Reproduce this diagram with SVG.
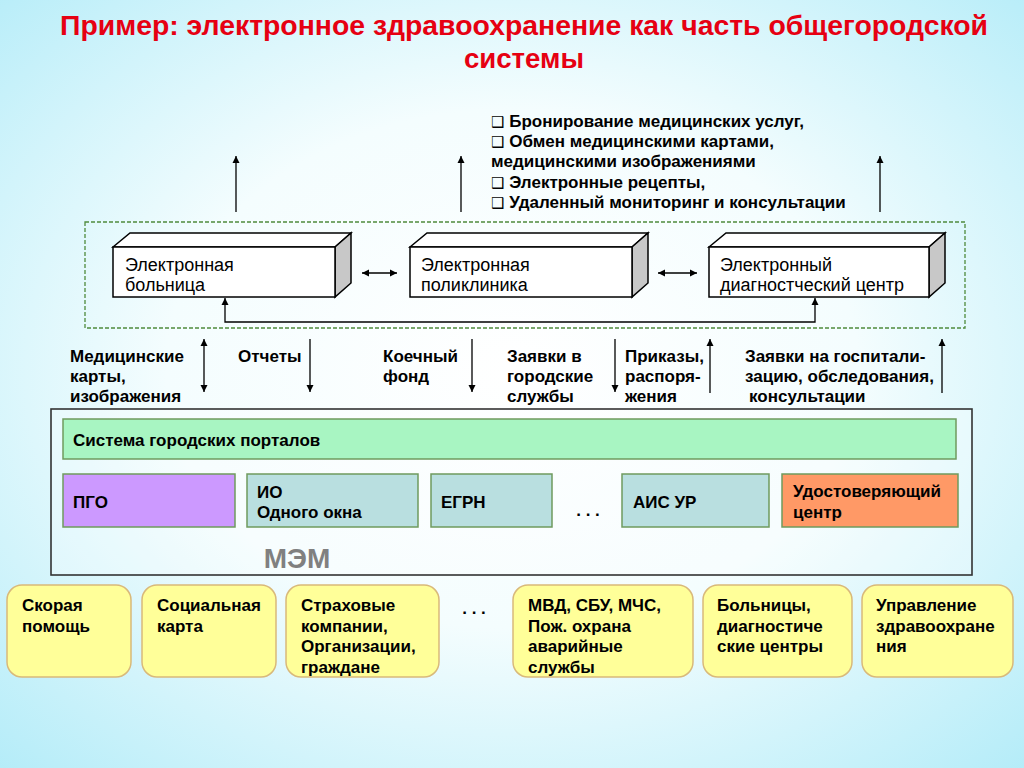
<svg xmlns="http://www.w3.org/2000/svg" width="1024" height="768" viewBox="0 0 1024 768">
<defs>
<radialGradient id="bg" cx="50%" cy="48%" r="75%">
<stop offset="0" stop-color="#ffffff"/>
<stop offset="0.45" stop-color="#f4fdfe"/>
<stop offset="1" stop-color="#b0ebf8"/>
</radialGradient>
<marker id="ah" viewBox="0 0 10 10" refX="10" refY="5" markerUnits="userSpaceOnUse" markerWidth="7" markerHeight="8" orient="auto-start-reverse">
<path d="M0,0 L10,5 L0,10 z" fill="#000"/>
</marker>
<style>
.t{font-family:"Liberation Sans",Arial,sans-serif;font-size:17px;fill:#000}
.r{font-size:18px}
.b{font-weight:bold}
.ln{stroke:#000;stroke-width:1.3;fill:none}
.box3d{fill:#fff;stroke:#000;stroke-width:1.5}
.side{fill:#c8c8c8;stroke:#000;stroke-width:1.5}
.row{stroke:#6f9a5e;stroke-width:1.5}
.yel{fill:#ffff99;stroke:#d9b97a;stroke-width:1.5}
.bul{font-family:"DejaVu Sans",sans-serif;font-size:15px;font-weight:normal}
</style>
</defs>
<rect width="1024" height="768" fill="url(#bg)"/>

<g id="title">
<text x="524" y="35" text-anchor="middle" textLength="928" lengthAdjust="spacingAndGlyphs" font-family="'Liberation Sans Narrow','Liberation Sans',Arial,sans-serif" font-weight="bold" font-size="28" fill="#e60012">Пример: электронное здравоохранение как часть общегородской</text>
<text x="524" y="68" text-anchor="middle" textLength="120" lengthAdjust="spacingAndGlyphs" font-family="'Liberation Sans Narrow','Liberation Sans',Arial,sans-serif" font-weight="bold" font-size="28" fill="#e60012">системы</text>
</g>

<g id="services">
<text class="t b" x="491" y="127"><tspan class="bul">❑</tspan> Бронирование медицинских услуг,</text>
<text class="t b" x="491" y="147"><tspan class="bul">❑</tspan> Обмен медицинскими картами,</text>
<text class="t b" x="491" y="167">медицинскими изображениями</text>
<text class="t b" x="491" y="188"><tspan class="bul">❑</tspan> Электронные рецепты,</text>
<text class="t b" x="491" y="208"><tspan class="bul">❑</tspan> Удаленный мониторинг и консультации</text>
</g>

<g id="ehealth-frame">
<rect x="85" y="222" width="880" height="106" fill="none" stroke="#4f8a3c" stroke-width="1.3" stroke-dasharray="4,2"/>
</g>

<g id="node-hospital">
<polygon class="box3d" points="113,247 130,233 351,233 335,247"/>
<polygon class="side" points="335,247 351,233 351,283 335,297"/>
<rect class="box3d" x="113" y="247" width="222" height="50"/>
<text class="t r" x="125" y="271">Электронная</text>
<text class="t r" x="125" y="291">больница</text>
</g>

<g id="node-polyclinic">
<polygon class="box3d" points="410,247 427,233 648,233 632,247"/>
<polygon class="side" points="632,247 648,233 648,283 632,297"/>
<rect class="box3d" x="410" y="247" width="222" height="50"/>
<text class="t r" x="421" y="271">Электронная</text>
<text class="t r" x="421" y="291">поликлиника</text>
</g>

<g id="node-diag">
<polygon class="box3d" points="709,247 726,233 945,233 929,247"/>
<polygon class="side" points="929,247 945,233 945,283 929,297"/>
<rect class="box3d" x="709" y="247" width="220" height="50"/>
<text class="t r" x="720" y="271">Электронный</text>
<text class="t r" x="720" y="291">диагностческий центр</text>
</g>

<g id="connectors">
<line class="ln" x1="236" y1="212" x2="236" y2="156" marker-end="url(#ah)"/>
<line class="ln" x1="461" y1="212" x2="461" y2="156" marker-end="url(#ah)"/>
<line class="ln" x1="880" y1="212" x2="880" y2="156" marker-end="url(#ah)"/>
<line class="ln" x1="362" y1="273" x2="397" y2="273" marker-start="url(#ah)" marker-end="url(#ah)"/>
<line class="ln" x1="658" y1="273" x2="697" y2="273" marker-start="url(#ah)" marker-end="url(#ah)"/>
<path class="ln" d="M225,298 V322 H815 V298" marker-start="url(#ah)" marker-end="url(#ah)"/>
<line class="ln" x1="204" y1="339" x2="204" y2="392" marker-start="url(#ah)" marker-end="url(#ah)"/>
<line class="ln" x1="310" y1="339" x2="310" y2="392" marker-end="url(#ah)"/>
<line class="ln" x1="472" y1="339" x2="472" y2="392" marker-end="url(#ah)"/>
<line class="ln" x1="615" y1="339" x2="615" y2="392" marker-end="url(#ah)"/>
<line class="ln" x1="710" y1="393" x2="710" y2="339" marker-end="url(#ah)"/>
<line class="ln" x1="942" y1="393" x2="942" y2="339" marker-end="url(#ah)"/>
</g>

<g id="flow-labels">
<text class="t b" x="70" y="362">Медицинские</text>
<text class="t b" x="70" y="382">карты,</text>
<text class="t b" x="70" y="402">изображения</text>
<text class="t b" x="238" y="362">Отчеты</text>
<text class="t b" x="383" y="362">Коечный</text>
<text class="t b" x="383" y="382">фонд</text>
<text class="t b" x="507" y="362">Заявки в</text>
<text class="t b" x="507" y="382">городские</text>
<text class="t b" x="507" y="402">службы</text>
<text class="t b" x="625" y="362">Приказы,</text>
<text class="t b" x="625" y="382">распоря-</text>
<text class="t b" x="625" y="402">жения</text>
<text class="t b" x="745" y="362">Заявки на госпитали-</text>
<text class="t b" x="745" y="382">зацию, обследования,</text>
<text class="t b" x="749" y="402">консультации</text>
</g>

<g id="mem">
<rect x="51" y="409" width="921" height="166" fill="#ffffff" fill-opacity="0.25" stroke="#333" stroke-width="1.6"/>
<text x="297" y="568" text-anchor="middle" font-family="'Liberation Sans',Arial,sans-serif" font-weight="bold" font-size="28" fill="#808080">МЭМ</text>
</g>

<g id="node-portals">
<rect class="row" x="63" y="419" width="893" height="40" fill="#a8f5c2"/>
<text class="t b" x="73" y="446">Система городских порталов</text>
</g>

<g id="node-pgo">
<rect class="row" x="63" y="474" width="172" height="53" fill="#cc99ff"/>
<text class="t b" x="73" y="508">ПГО</text>
</g>

<g id="node-io">
<rect class="row" x="247" y="474" width="171" height="53" fill="#b9dfe0"/>
<text class="t b" x="257" y="498">ИО</text>
<text class="t b" x="257" y="518">Одного окна</text>
</g>

<g id="node-egrn">
<rect class="row" x="431" y="474" width="121" height="53" fill="#b9dfe0"/>
<text class="t b" x="441" y="508">ЕГРН</text>
</g>

<text class="t b" x="588" y="516" text-anchor="middle">. . .</text>

<g id="node-ais">
<rect class="row" x="622" y="474" width="147" height="53" fill="#b9dfe0"/>
<text class="t b" x="633" y="508">АИС УР</text>
</g>

<g id="node-uc">
<rect class="row" x="782" y="474" width="176" height="53" fill="#ff9966"/>
<text class="t b" x="793" y="497">Удостоверяющий</text>
<text class="t b" x="793" y="518">центр</text>
</g>

<g id="node-ambulance">
<rect class="yel" x="7" y="585" width="124" height="92" rx="15"/>
<text class="t b" x="22" y="611">Скорая</text>
<text class="t b" x="22" y="632">помощь</text>
</g>

<g id="node-social">
<rect class="yel" x="142" y="585" width="134" height="92" rx="15"/>
<text class="t b" x="157" y="611">Социальная</text>
<text class="t b" x="157" y="632">карта</text>
</g>

<g id="node-insurance">
<rect class="yel" x="286" y="585" width="153" height="92" rx="15"/>
<text class="t b" x="301" y="611">Страховые</text>
<text class="t b" x="301" y="632">компании,</text>
<text class="t b" x="301" y="652">Организации,</text>
<text class="t b" x="301" y="673">граждане</text>
</g>

<text class="t b" x="474" y="614" text-anchor="middle">. . .</text>

<g id="node-emergency">
<rect class="yel" x="513" y="585" width="180" height="92" rx="15"/>
<text class="t b" x="528" y="611">МВД, СБУ, МЧС,</text>
<text class="t b" x="528" y="632">Пож. охрана</text>
<text class="t b" x="528" y="652">аварийные</text>
<text class="t b" x="528" y="673">службы</text>
</g>

<g id="node-hospitals">
<rect class="yel" x="703" y="585" width="149" height="92" rx="15"/>
<text class="t b" x="717" y="611">Больницы,</text>
<text class="t b" x="717" y="632">диагностиче</text>
<text class="t b" x="717" y="652">ские центры</text>
</g>

<g id="node-admin">
<rect class="yel" x="862" y="585" width="151" height="92" rx="15"/>
<text class="t b" x="876" y="611">Управление</text>
<text class="t b" x="876" y="632">здравоохране</text>
<text class="t b" x="876" y="652">ния</text>
</g>
</svg>
